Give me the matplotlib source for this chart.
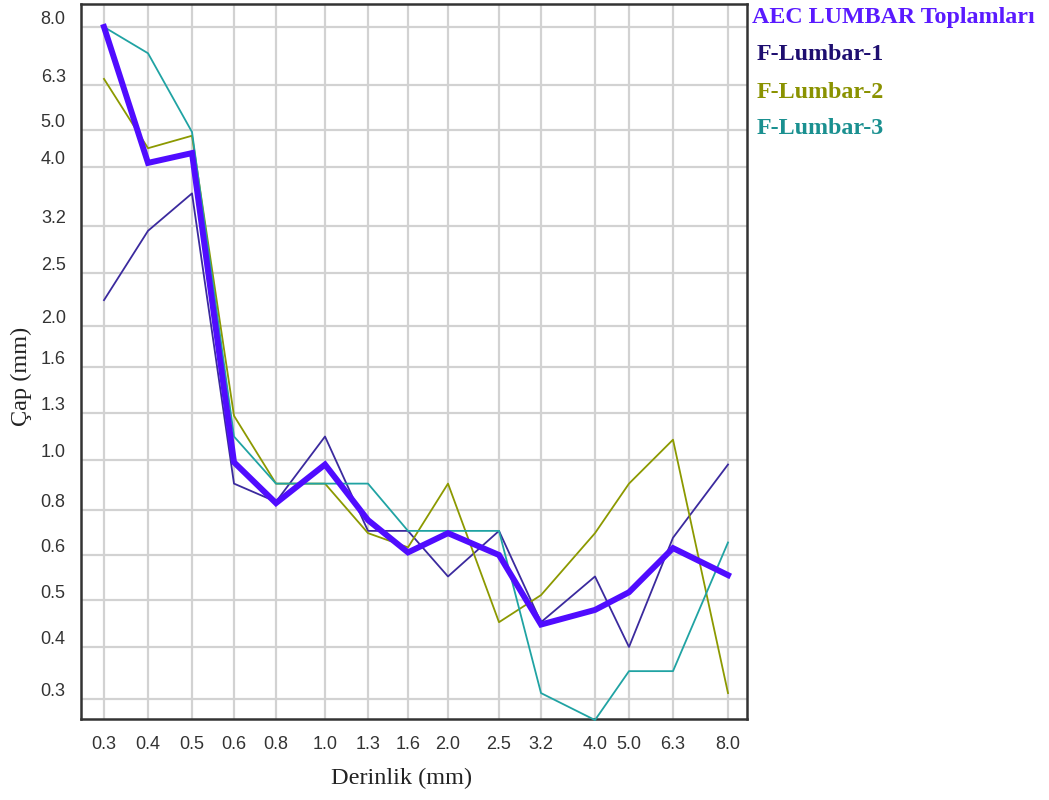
import numpy as np
import matplotlib
matplotlib.use("Agg")
import matplotlib.pyplot as plt
from matplotlib import transforms

# Sieve openings (mm) on the x axis and diameter readings (mm) per series
depth = [0.3, 0.4, 0.5, 0.6, 0.8, 1.0, 1.3, 1.6, 2.0, 2.5, 3.2, 4.0, 5.0, 6.3, 8.0]
diam_ticks = [0.3, 0.4, 0.5, 0.6, 0.8, 1.0, 1.3, 1.6, 2.0, 2.5, 3.2, 4.0, 5.0, 6.3, 8.0]

aec_total = [8.0, 4.10, 4.35, 0.99, 0.825, 0.98, 0.75, 0.61, 0.69, 0.60, 0.445, 0.477, 0.516, 0.627, 0.553]
f_lumbar_1 = [2.23, 3.12, 3.62, 0.90, 0.83, 1.14, 0.70, 0.70, 0.55, 0.70, 0.45, 0.55, 0.40, 0.67, 0.98]
f_lumbar_2 = [6.46, 4.48, 4.83, 1.28, 0.90, 0.90, 0.69, 0.63, 0.90, 0.45, 0.51, 0.69, 0.90, 1.12, 0.31]
f_lumbar_3 = [8.0, 7.18, 4.94, 1.14, 0.90, 0.90, 0.90, 0.70, 0.70, 0.70, 0.31, 0.267, 0.35, 0.35, 0.65]

series_names = ["AEC LUMBAR Toplamları", "F-Lumbar-1", "F-Lumbar-2", "F-Lumbar-3"]

# Grid line placement along each axis (pixels from the axis origin)
X_SPAN = 666
Y_SPAN = 715
x_grid_px = [23, 67, 111, 153, 195, 244, 287, 327, 367, 418, 460, 514, 548, 592, 647]
y_grid_px = [20, 72, 119, 164, 209, 259, 306, 352, 393, 446, 493, 552, 589, 634, 692]


def warp(ticks, px, span):
    """Piecewise-logarithmic scale that puts each tick at its grid position."""
    lt = np.log(np.asarray(ticks, float))
    p = np.asarray(px, float)
    lo = (p[1] - p[0]) / (lt[1] - lt[0])
    hi = (p[-1] - p[-2]) / (lt[-1] - lt[-2])
    lt_ext = np.r_[lt[0] - 10, lt, lt[-1] + 10]
    p_ext = np.r_[p[0] - 10 * lo, p, p[-1] + 10 * hi]

    def fwd(v):
        v = np.clip(np.asarray(v, float), 1e-12, None)
        return np.interp(np.log(v), lt_ext, p_ext)

    def inv(q):
        return np.exp(np.interp(np.asarray(q, float), p_ext, lt_ext))

    return fwd, inv, (float(inv(0.0)), float(inv(span)))


W, H = 1049, 800
fig = plt.figure(figsize=(W / 100, H / 100), dpi=100)
ax = fig.add_axes([81 / W, (H - 719) / H, X_SPAN / W, Y_SPAN / H])

xf, xi, xlim = warp(depth, x_grid_px, X_SPAN)
yf, yi, ylim = warp(diam_ticks, y_grid_px, Y_SPAN)
ax.set_xscale("function", functions=(xf, xi))
ax.set_yscale("function", functions=(yf, yi))
ax.set_xlim(xlim)
ax.set_ylim(ylim)

ax.set_xticks(depth)
ax.set_xticklabels([f"{v:.1f}" for v in depth])
ax.set_yticks(diam_ticks)
ax.set_yticklabels([f"{v:.1f}" for v in diam_ticks])
ax.minorticks_off()

ax.grid(True, color="#d2d2d2", linewidth=1.6)
ax.set_axisbelow(True)
for s in ax.spines.values():
    s.set_color("#333333")
    s.set_linewidth(1.8)

tick_font = dict(family="Liberation Sans", size=13)
ax.tick_params(axis="both", length=0, colors="#333333")
ax.tick_params(axis="x", pad=12)
ax.tick_params(axis="y", pad=11)
for lbl in ax.get_xticklabels() + ax.get_yticklabels():
    lbl.set_fontfamily(tick_font["family"])
    lbl.set_fontsize(tick_font["size"])
shift = transforms.ScaledTranslation(0, 0.09, fig.dpi_scale_trans)
for lbl in ax.get_yticklabels():
    lbl.set_transform(lbl.get_transform() + shift)

colors = ["#500cff", "#3b2a9e", "#8c9900", "#20a3a3"]
text_colors = ["#5a1aff", "#1e0e70", "#8a9200", "#1a9090"]

ax.plot(depth, f_lumbar_1, color=colors[1], linewidth=1.3, zorder=3, clip_on=False)
ax.plot(depth, f_lumbar_2, color=colors[2], linewidth=1.3, zorder=3, clip_on=False)
ax.plot(depth, f_lumbar_3, color=colors[3], linewidth=1.3, zorder=3, clip_on=False)
ax.plot(depth, aec_total, color=colors[0], linewidth=4.3, zorder=4,
        solid_joinstyle="miter", clip_on=False)

# Axis titles
serif = "Liberation Serif"
fig.text(21 / W, 1 - 376 / H, "Çap (mm)", rotation=90, ha="center", va="center",
         family=serif, fontsize=17.5, color="#222222")
fig.text(402 / W, 1 - 778 / H, "Derinlik (mm)", ha="center", va="center",
         family=serif, fontsize=17.5, color="#222222")

# Series key on the right
key_pos = [(752, 18), (757, 55), (757, 93), (757, 128)]
for name, c, (px, py) in zip(series_names, text_colors, key_pos):
    fig.text(px / W, 1 - py / H, name, ha="left", va="center", family=serif,
             fontsize=17.3, fontweight="bold", color=c)

fig.savefig("out.png", dpi=100, facecolor="white")
